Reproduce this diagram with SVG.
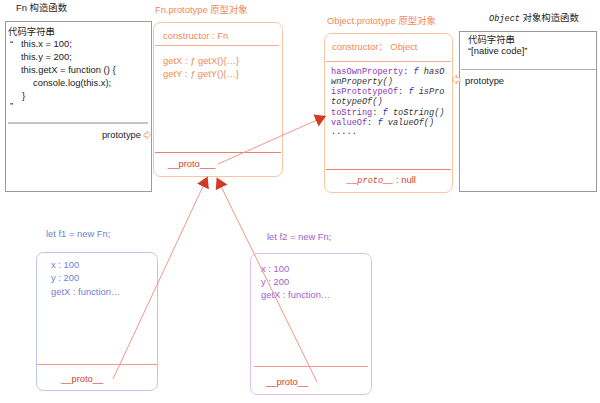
<svg xmlns="http://www.w3.org/2000/svg" width="600" height="403" viewBox="0 0 600 403">
<defs>
<style>
text{font-family:"Liberation Sans","Noto Sans CJK SC",sans-serif;font-size:9.4px;}
.dark{fill:#222;}
.org{fill:#ef8a55;}
.red{fill:#d9432f;}
.blue{fill:#6d7fcf;}
.pur{fill:#a062cf;}
.mono{font-family:"Liberation Mono","DejaVu Sans Mono",monospace;font-size:8.6px;}
.pn{fill:#8a35b5;}
.fk{fill:#2c2cc8;font-style:italic;}
.it{fill:#333;font-style:italic;}
.conn{stroke:#f08a7c;stroke-width:0.9;fill:none;}
</style>
<marker id="ah" markerUnits="userSpaceOnUse" markerWidth="12" markerHeight="14" refX="11" refY="6.5" orient="auto">
<path d="M0,0 L11,6.5 L0,13 z" fill="#d23a24"/>
</marker>
</defs>
<rect width="600" height="403" fill="#fff"/>

<g id="fn">
<text x="16" y="11" class="dark">Fn 构造函数</text>
<rect x="5.5" y="21.5" width="146" height="170" fill="none" stroke="#9a9a9a" stroke-width="1"/>
<text x="8" y="35" class="dark">代码字符串</text>
<text x="10" y="47" class="dark">“</text>
<text x="21" y="47" class="dark">this.x = 100;</text>
<text x="21" y="60" class="dark">this.y = 200;</text>
<text x="21" y="73" class="dark">this.getX = function () {</text>
<text x="33" y="86" class="dark">console.log(this.x);</text>
<text x="22" y="99" class="dark">}</text>
<text x="10" y="109" class="dark">”</text>
<line x1="8" y1="123" x2="148" y2="123" stroke="#b0b0b0" stroke-width="1.5"/>
<text x="141" y="138" class="dark" text-anchor="end">prototype</text>
<path d="M144,133.5 h3 v-2.5 l3.5,4 l-3.5,4 v-2.5 h-3 z" fill="#fff" stroke="#f4a070" stroke-width="0.8"/>
</g>

<g id="fn-prototype">
<text x="155" y="13" class="org">Fn.prototype 原型对象</text>
<rect x="153.5" y="22.5" width="129" height="154" rx="7" fill="none" stroke="#f7c4a4" stroke-width="1"/>
<text x="163" y="39" class="org">constructor : Fn</text>
<line x1="155" y1="45.5" x2="279" y2="45.5" stroke="#f4b090" stroke-width="1"/>
<text x="163" y="64" class="org">getX : <tspan font-style="italic">ƒ</tspan> getX(){…}</text>
<text x="163" y="77" class="org">getY : <tspan font-style="italic">ƒ</tspan> getY(){…}</text>
<line x1="155" y1="152.5" x2="281" y2="152.5" stroke="#ec7f70" stroke-width="1"/>
<text x="168" y="167" class="red">__proto___</text>
</g>

<g id="object-prototype">
<text x="327" y="24" class="org">Object.prototype 原型对象</text>
<rect x="324.5" y="33.5" width="128" height="159" rx="7" fill="none" stroke="#f7c4a4" stroke-width="1"/>
<text x="332" y="50" class="org">constructor：  Object</text>
<line x1="326" y1="61.5" x2="451" y2="61.5" stroke="#f4b090" stroke-width="1"/>
<text x="331" y="74" class="mono"><tspan class="pn">hasOwnProperty</tspan><tspan fill="#333">: </tspan><tspan class="fk">f</tspan><tspan class="it"> hasO</tspan></text>
<text x="331" y="84" class="mono it">wnProperty()</text>
<text x="331" y="94" class="mono"><tspan class="pn">isPrototypeOf</tspan><tspan fill="#333">: </tspan><tspan class="fk">f</tspan><tspan class="it"> isPro</tspan></text>
<text x="331" y="104" class="mono it">totypeOf()</text>
<text x="331" y="115" class="mono"><tspan class="pn">toString</tspan><tspan fill="#333">: </tspan><tspan class="fk">f</tspan><tspan class="it"> toString()</tspan></text>
<text x="331" y="125" class="mono"><tspan class="pn">valueOf</tspan><tspan fill="#333">: </tspan><tspan class="fk">f</tspan><tspan class="it"> valueOf()</tspan></text>
<text x="331" y="134" class="mono" fill="#333">.....</text>
<line x1="326" y1="169.5" x2="451" y2="169.5" stroke="#ec7f70" stroke-width="1"/>
<text x="347" y="183" class="red"><tspan class="mono" font-style="italic">__proto__</tspan>  : null</text>
</g>

<g id="object-constructor">
<text x="489" y="21" class="dark"><tspan class="mono" font-style="italic">Object</tspan> 对象构造函数</text>
<rect x="459.5" y="31.5" width="137" height="160" fill="none" stroke="#9a9a9a" stroke-width="1"/>
<text x="468" y="43" class="dark">代码字符串</text>
<text x="468" y="54" class="dark">“[native code]”</text>
<line x1="461" y1="69.5" x2="596" y2="69.5" stroke="#b0b0b0" stroke-width="1.2"/>
<text x="465" y="84" class="dark">prototype</text>
<path d="M460,77.5 h-3.5 v-2.5 l-4,4.5 l4,4.5 v-2.5 h3.5 z" fill="#fff" stroke="#f4a070" stroke-width="0.8"/>
</g>

<g id="f1">
<text x="46" y="237" class="blue">let f1 = new Fn;</text>
<rect x="36.5" y="252.5" width="121" height="138" rx="7" fill="none" stroke="#bcc6ee" stroke-width="1"/>
<text x="51" y="268" class="blue">x : 100</text>
<text x="51" y="281" class="blue">y : 200</text>
<text x="51" y="295" class="blue">getX : function…</text>
<line x1="37" y1="364.5" x2="157" y2="364.5" stroke="#f29a90" stroke-width="1"/>
<text x="61" y="382" class="red">__proto__</text>
</g>

<g id="f2">
<text x="267" y="240" class="pur">let f2 = new Fn;</text>
<rect x="250.5" y="253.5" width="121" height="141" rx="7" fill="none" stroke="#dcbff0" stroke-width="1"/>
<text x="261" y="272" class="pur">x : 100</text>
<text x="261" y="285" class="pur">y : 200</text>
<text x="261" y="298" class="pur">getX : function…</text>
<line x1="254" y1="366.5" x2="368" y2="366.5" stroke="#f29a90" stroke-width="1"/>
<text x="266" y="385" class="red">__proto__</text>
</g>

<g id="connectors">
<line class="conn" x1="113" y1="379" x2="207.6" y2="176.5" marker-end="url(#ah)"/>
<line class="conn" x1="317" y1="382" x2="216.7" y2="177.6" marker-end="url(#ah)"/>
<line class="conn" x1="218" y1="164" x2="326" y2="116" marker-end="url(#ah)"/>
</g>
</svg>
